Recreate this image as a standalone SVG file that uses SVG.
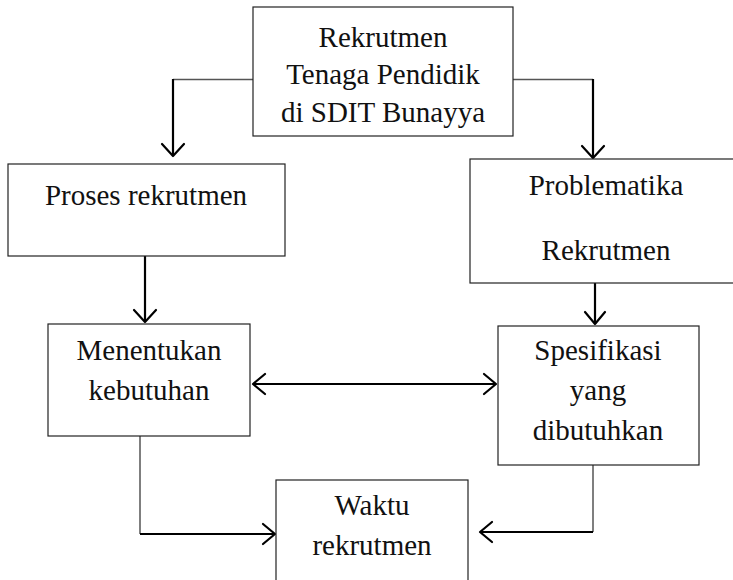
<svg xmlns="http://www.w3.org/2000/svg" width="733" height="580" viewBox="0 0 733 580">
<style>
.box{fill:#fff;stroke:#222;stroke-width:1.2}
.t{font-family:"Liberation Serif","Times New Roman",serif;font-size:29px;fill:#111;text-anchor:middle}
.thin{fill:none;stroke:#555;stroke-width:1.5}
.arr{fill:none;stroke:#000;stroke-width:2.2}
.head{fill:none;stroke:#000;stroke-width:2.2;stroke-linecap:round;stroke-linejoin:round}
</style>
<rect width="733" height="580" fill="#fff"/>
<g id="connectors">
<polyline class="thin" points="253,79.5 173,79.5"/>
<line class="arr" x1="173" y1="79" x2="173" y2="156"/>
<polyline class="head" points="162,144 173,156 184,144"/>
<polyline class="thin" points="513,79.5 593,79.5"/>
<line class="arr" x1="593" y1="79" x2="593" y2="158"/>
<polyline class="head" points="582,146 593,158 604,146"/>
<line class="arr" x1="145" y1="256" x2="145" y2="322"/>
<polyline class="head" points="134,310 145,322 156,310"/>
<line class="arr" x1="595" y1="283" x2="595" y2="324"/>
<polyline class="head" points="585,312 595,324 605,312"/>
<line class="arr" x1="253" y1="384" x2="496" y2="384"/>
<polyline class="head" points="265,374 253,384 265,394"/>
<polyline class="head" points="484,374 496,384 484,394"/>
<line class="thin" x1="140" y1="436" x2="140" y2="534"/>
<line class="arr" x1="140" y1="534" x2="275" y2="534"/>
<polyline class="head" points="263,524 275,534 263,544"/>
<line class="thin" x1="593" y1="465" x2="593" y2="532"/>
<line class="arr" x1="593" y1="532" x2="480" y2="532"/>
<polyline class="head" points="492,522 480,532 492,542"/>
</g>
<g id="node-top">
<rect class="box" x="253" y="7" width="260" height="129"/>
<text class="t" x="383" y="47">Rekrutmen</text>
<text class="t" x="383" y="84">Tenaga Pendidik</text>
<text class="t" x="383" y="122">di SDIT Bunayya</text>
</g>
<g id="node-proses">
<rect class="box" x="8" y="164" width="277" height="92"/>
<text class="t" x="146" y="205">Proses rekrutmen</text>
</g>
<g id="node-problematika">
<rect class="box" x="470" y="159" width="270" height="124"/>
<text class="t" x="606" y="195">Problematika</text>
<text class="t" x="606" y="260">Rekrutmen</text>
</g>
<g id="node-menentukan">
<rect class="box" x="48" y="324" width="202" height="112"/>
<text class="t" x="149" y="360">Menentukan</text>
<text class="t" x="149" y="400">kebutuhan</text>
</g>
<g id="node-spesifikasi">
<rect class="box" x="498" y="326" width="201" height="139"/>
<text class="t" x="598" y="360">Spesifikasi</text>
<text class="t" x="598" y="400">yang</text>
<text class="t" x="598" y="440">dibutuhkan</text>
</g>
<g id="node-waktu">
<rect class="box" x="276" y="480" width="192" height="110"/>
<text class="t" x="372" y="515">Waktu</text>
<text class="t" x="372" y="555">rekrutmen</text>
</g>
</svg>
